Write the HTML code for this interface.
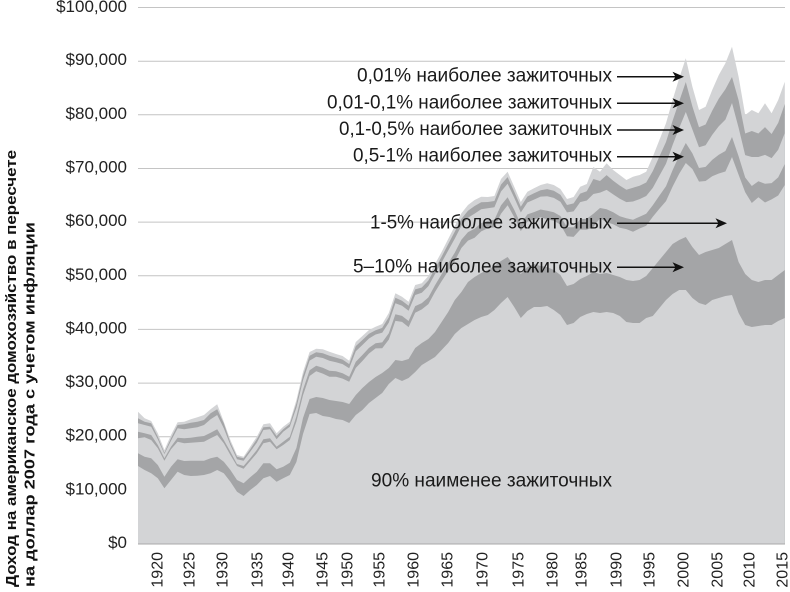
<!DOCTYPE html>
<html>
<head>
<meta charset="utf-8">
<style>
  html,body{margin:0;padding:0;background:#fff;}
  svg{display:block;}
  text{font-family:"Liberation Sans","DejaVu Sans",sans-serif;}
</style>
</head>
<body>
<svg width="790" height="592" viewBox="0 0 790 592" xmlns="http://www.w3.org/2000/svg">
  <rect x="0" y="0" width="790" height="592" fill="#ffffff"/>

  <!-- gridlines -->
  <g stroke="#c4c4c4" stroke-width="1">
    <line x1="138" y1="7.5" x2="785" y2="7.5"/>
    <line x1="138" y1="61.2" x2="785" y2="61.2"/>
    <line x1="138" y1="114.8" x2="785" y2="114.8"/>
    <line x1="138" y1="168.5" x2="785" y2="168.5"/>
    <line x1="138" y1="222.1" x2="785" y2="222.1"/>
    <line x1="138" y1="275.8" x2="785" y2="275.8"/>
    <line x1="138" y1="329.4" x2="785" y2="329.4"/>
    <line x1="138" y1="383.1" x2="785" y2="383.1"/>
    <line x1="138" y1="436.7" x2="785" y2="436.7"/>
    <line x1="138" y1="490.4" x2="785" y2="490.4"/>
  </g>

  <!-- stacked layers (painted top boundary first) -->
  <polygon fill="#d3d4d6" points="138,411.7 144.6,418.3 151.2,421 157.8,433.3 164.4,450 171,435 177.6,422.3 184.2,421.7 190.8,419.3 197.4,417.3 204,415 210.6,409.3 217.2,404.3 223.8,421.7 230.4,440 237,455 243.6,456.7 250.2,446.7 256.8,436.7 263.4,424.3 270,423.3 276.6,433.3 283.2,426.7 289.8,421.7 296.4,400 303,372 309.6,352 316.2,348.7 322.8,349.3 329.4,351.7 336,354 342.6,356 349.2,360.7 355.8,342 362.4,336 369,330 375.6,326.7 382.2,324 388.8,313 395.4,293.3 402,296.7 408.6,301.7 415.2,285 421.8,283.3 428.4,276 435,264 441.6,252 448.2,239 454.8,226 461.4,213.3 468,205 474.6,200 481.2,196.7 487.8,197 494.4,196 501,179 507.6,171.7 514.2,186.7 520.8,202 527.4,191.7 534,188.3 540.6,185 547.2,183.3 553.8,185 560.4,189 567,199 573.6,197 580.2,186.7 586.8,184 593.4,167 600,171.7 606.6,163.3 613.2,170 619.8,175 626.4,180 633,176.7 639.6,175 646.2,171.7 652.8,156.7 659.4,140 666,123.3 672.6,100 679.2,78.3 685.8,58.3 692.4,86.7 699,110 705.6,106.7 712.2,90 718.8,75 725.4,63.3 732,46.7 738.6,76.7 745.2,115 751.8,110 758.4,113.3 765,103.3 771.6,113.3 778.2,100 784.8,81.7 784.8,544 138,544"/>
  <polygon fill="#a4a5a7" points="138,418.3 144.6,421.7 151.2,423.3 157.8,436.7 164.4,452.7 171,438.3 177.6,425 184.2,424.3 190.8,422.7 197.4,421.7 204,420 210.6,413.3 217.2,409.3 223.8,423.3 230.4,442.7 237,456.7 243.6,458.3 250.2,449.3 256.8,439.3 263.4,427.3 270,426.7 276.6,436 283.2,429.3 289.8,424 296.4,403.5 303,375.7 309.6,355.8 316.2,352.3 322.8,353.2 329.4,355.7 336,357.6 342.6,359.6 349.2,364.1 355.8,346.1 362.4,340 369,333.8 375.6,330.2 382.2,327.9 388.8,317.3 395.4,297.7 402,300.7 408.6,305.8 415.2,289.4 421.8,287.5 428.4,280.5 435,268.5 441.6,256.7 448.2,244.1 454.8,231.6 461.4,218.9 468,210.7 474.6,206 481.2,202.3 487.8,202 494.4,201 501,184.6 507.6,177.1 514.2,191.6 520.8,206.7 527.4,196.5 534,193.3 540.6,190.2 547.2,189.1 553.8,190.7 560.4,194.7 567,205 573.6,203.4 580.2,193.6 586.8,191.3 593.4,179 600,181 606.6,175.1 613.2,180.8 619.8,185.6 626.4,189.8 633,187.7 639.6,185.7 646.2,182.5 652.8,171.1 659.4,156.5 666,142 672.6,120.8 679.2,101.2 685.8,82 692.4,106.5 699,127.2 705.6,124.5 712.2,110.7 718.8,98.6 725.4,89.3 732,77 738.6,100.2 745.2,133.5 751.8,131 758.4,133.5 765,127.1 771.6,134 778.2,122.9 784.8,104 784.8,544 138,544"/>
  <polygon fill="#d3d4d6" points="138,423.3 144.6,425 151.2,426.7 157.8,439.3 164.4,454 171,440.7 177.6,428.3 184.2,429.3 190.8,428.3 197.4,427.3 204,425 210.6,419.3 217.2,415 223.8,428.3 230.4,445 237,459.3 243.6,460.7 250.2,451.7 256.8,442.7 263.4,430 270,429.3 276.6,439.3 283.2,431.7 289.8,426.7 296.4,407.8 303,380.4 309.6,360.6 316.2,356.8 322.8,358 329.4,360.7 336,362.2 342.6,364.1 349.2,368.3 355.8,351.3 362.4,345 369,338.5 375.6,334.5 382.2,332.7 388.8,322.6 395.4,303.2 402,305.8 408.6,310.8 415.2,295 421.8,292.7 428.4,286.1 435,274.1 441.6,262.5 448.2,250.5 454.8,238.6 461.4,225.8 468,217.8 474.6,213.6 481.2,209.2 487.8,208.2 494.4,207.3 501,191.5 507.6,183.8 514.2,197.6 520.8,212.5 527.4,202.5 534,199.6 540.6,196.6 547.2,196.3 553.8,197.9 560.4,201.8 567,212.4 573.6,211.4 580.2,202.1 586.8,200.5 593.4,194 600,192.6 606.6,189.9 613.2,194.4 619.8,198.8 626.4,202.1 633,201.5 639.6,199.1 646.2,196 652.8,187.9 659.4,175.7 666,163.8 672.6,145 679.2,128 685.8,112 692.4,129.5 699,147.2 705.6,145.3 712.2,134.9 718.8,126.2 725.4,119.6 732,103 738.6,127.7 745.2,155.1 751.8,157 758.4,157 765,154.9 771.6,158.1 778.2,149.7 784.8,133 784.8,544 138,544"/>
  <polygon fill="#a4a5a7" points="138,431.7 144.6,433.3 151.2,435 157.8,445 164.4,458.3 171,446.7 177.6,437.7 184.2,438.3 190.8,437.7 197.4,436.7 204,436 210.6,432.7 217.2,429.3 223.8,440 230.4,451.7 237,464 243.6,466 250.2,458.3 256.8,450 263.4,439.3 270,438.3 276.6,446.7 283.2,441.7 289.8,436.7 296.4,416.4 303,389.6 309.6,370.2 316.2,365.8 322.8,367.8 329.4,370.7 336,371.3 342.6,373.2 349.2,376.7 355.8,361.7 362.4,355 369,347.9 375.6,343.2 382.2,342.4 388.8,333.2 395.4,314.3 402,315.9 408.6,321 415.2,306.1 421.8,303.1 428.4,297.4 435,285.3 441.6,274.2 448.2,263.3 454.8,252.6 461.4,239.7 468,232.1 474.6,228.7 481.2,223.1 487.8,220.7 494.4,219.8 501,205.4 507.6,197.2 514.2,209.8 520.8,224.1 527.4,214.4 534,212.1 540.6,209.5 547.2,210.7 553.8,212.3 560.4,216 567,227.3 573.6,227.3 580.2,219.3 586.8,218.7 593.4,213.7 600,208 606.6,209.3 613.2,212.3 619.8,216.2 626.4,218.3 633,219.7 639.6,216.7 646.2,213.8 652.8,205.3 659.4,195.6 666,186.3 672.6,170.1 679.2,155.7 685.8,143 692.4,153.4 699,168 705.6,166.9 712.2,159.9 718.8,154.8 725.4,151 732,137 738.6,156.2 745.2,177.5 751.8,186 758.4,181.3 765,183.7 771.6,183.1 778.2,177.4 784.8,164 784.8,544 138,544"/>
  <polygon fill="#d3d4d6" points="138,438.3 144.6,437.3 151.2,440 157.8,448.3 164.4,460.7 171,449.3 177.6,441.7 184.2,443.3 190.8,442.7 197.4,442.3 204,441.7 210.6,438.3 217.2,435 223.8,443.3 230.4,455 237,466 243.6,468.7 250.2,461 256.8,453.3 263.4,443.3 270,441.7 276.6,449.3 283.2,445 289.8,440 296.4,421.6 303,395.2 309.6,376 316.2,371.2 322.8,373.6 329.4,376.7 336,376.8 342.6,378.6 349.2,381.8 355.8,367.9 362.4,361 369,353.5 375.6,348.4 382.2,348.2 388.8,339.6 395.4,320.9 402,321.9 408.6,327.1 415.2,312.7 421.8,309.4 428.4,304.1 435,292 441.6,281.2 448.2,271 454.8,261 461.4,248 468,240.6 474.6,237.8 481.2,231.4 487.8,228.2 494.4,227.3 501,213.7 507.6,205.2 514.2,217.1 520.8,231.1 527.4,221.6 534,219.6 540.6,217.3 547.2,219.4 553.8,220.9 560.4,224.5 567,236.3 573.6,236.9 580.2,229.6 586.8,229.7 593.4,226.9 600,218.2 606.6,222.3 613.2,224.2 619.8,227.8 626.4,229.1 633,231.8 639.6,228.5 646.2,225.7 652.8,216.7 659.4,208.7 666,201.1 672.6,186.6 679.2,173.8 685.8,163 692.4,169 699,181.6 705.6,181 712.2,176.3 718.8,173.5 725.4,171.5 732,157 738.6,174.8 745.2,192.2 751.8,203 758.4,197.3 765,202.5 771.6,199.4 778.2,195.5 784.8,185 784.8,544 138,544"/>
  <polygon fill="#a4a5a7" points="138,453.3 144.6,456.7 151.2,458.3 157.8,465 164.4,476.7 171,466.7 177.6,459.3 184.2,461 190.8,460.7 197.4,460.7 204,460.7 210.6,458.3 217.2,456.7 223.8,461.7 230.4,470 237,480 243.6,483.3 250.2,477.3 256.8,471.7 263.4,463.3 270,463.3 276.6,469.3 283.2,466.7 289.8,462.7 296.4,448 303,418 309.6,399 316.2,397 322.8,398 329.4,400 336,401 342.6,402 349.2,404 355.8,395 362.4,388 369,382 375.6,377 382.2,373 388.8,368 395.4,360 402,361 408.6,359 415.2,348 421.8,343 428.4,339 435,332 441.6,322 448.2,312 454.8,300 461.4,292 468,282 474.6,277 481.2,273 487.8,270 494.4,266 501,261 507.6,257 514.2,266 520.8,274 527.4,267 534,264 540.6,266 547.2,267 553.8,270 560.4,275 567,286 573.6,284 580.2,279 586.8,276 593.4,272 600,274 606.6,273 613.2,275 619.8,277 626.4,280 633,281 639.6,280 646.2,276 652.8,268 659.4,260 666,252 672.6,244 679.2,240 685.8,237 692.4,247 699,255 705.6,252 712.2,250 718.8,248 725.4,244 732,240 738.6,262 745.2,274 751.8,280 758.4,282 765,280 771.6,280 778.2,275 784.8,270 784.8,544 138,544"/>
  <polygon fill="#d3d4d6" points="138,466 144.6,470 151.2,473.3 157.8,478.3 164.4,488.3 171,480 177.6,471.7 184.2,475 190.8,476 197.4,475.7 204,475 210.6,473.3 217.2,470 223.8,473.3 230.4,481.7 237,491.7 243.6,496 250.2,490 256.8,485 263.4,478.3 270,476 276.6,481.7 283.2,478.3 289.8,475 296.4,462 303,434 309.6,414 316.2,413 322.8,416 329.4,417 336,419 342.6,420 349.2,423 355.8,415 362.4,410 369,403 375.6,398 382.2,393 388.8,384 395.4,378 402,381 408.6,378 415.2,372 421.8,365 428.4,361 435,357 441.6,350 448.2,343 454.8,334 461.4,328 468,324 474.6,320 481.2,317 487.8,315 494.4,310 501,303 507.6,297 514.2,307 520.8,318 527.4,311 534,307 540.6,307 547.2,306 553.8,310 560.4,315 567,325 573.6,323 580.2,317 586.8,314 593.4,312 600,313 606.6,312 613.2,313 619.8,316 626.4,322 633,323 639.6,323 646.2,318 652.8,316 659.4,308 666,300 672.6,294 679.2,290 685.8,290 692.4,298 699,303 705.6,305 712.2,300 718.8,298 725.4,296 732,295 738.6,313 745.2,325 751.8,327 758.4,326 765,325 771.6,325 778.2,321 784.8,318 784.8,544 138,544"/>

  <!-- x axis line -->
  <line x1="138" y1="544" x2="785" y2="544" stroke="#a9a9a9" stroke-width="1"/>

  <!-- y tick labels -->
  <g font-size="17" fill="#222" text-anchor="end">
    <text x="127" y="548">$0</text>
    <text x="127" y="494.4">$10,000</text>
    <text x="127" y="440.7">$20,000</text>
    <text x="127" y="387.1">$30,000</text>
    <text x="127" y="333.4">$40,000</text>
    <text x="127" y="279.8">$50,000</text>
    <text x="127" y="226.1">$60,000</text>
    <text x="127" y="172.5">$70,000</text>
    <text x="127" y="118.8">$80,000</text>
    <text x="127" y="65.2">$90,000</text>
    <text x="127" y="12">$100,000</text>
  </g>

  <!-- x tick labels -->
  <g font-size="16" fill="#222" text-anchor="end">
    <text transform="translate(162.5,552) rotate(-90)">1920</text>
    <text transform="translate(194.5,552) rotate(-90)">1925</text>
    <text transform="translate(227.5,552) rotate(-90)">1930</text>
    <text transform="translate(262.5,552) rotate(-90)">1935</text>
    <text transform="translate(293.5,552) rotate(-90)">1940</text>
    <text transform="translate(327.5,552) rotate(-90)">1945</text>
    <text transform="translate(352.5,552) rotate(-90)">1950</text>
    <text transform="translate(384.5,552) rotate(-90)">1955</text>
    <text transform="translate(418.5,552) rotate(-90)">1960</text>
    <text transform="translate(452.5,552) rotate(-90)">1965</text>
    <text transform="translate(487.5,552) rotate(-90)">1970</text>
    <text transform="translate(523.5,552) rotate(-90)">1975</text>
    <text transform="translate(557.5,552) rotate(-90)">1980</text>
    <text transform="translate(586.5,552) rotate(-90)">1985</text>
    <text transform="translate(621.5,552) rotate(-90)">1990</text>
    <text transform="translate(654.5,552) rotate(-90)">1995</text>
    <text transform="translate(688.5,552) rotate(-90)">2000</text>
    <text transform="translate(722.5,552) rotate(-90)">2005</text>
    <text transform="translate(754.5,552) rotate(-90)">2010</text>
    <text transform="translate(787.5,552) rotate(-90)">2015</text>
  </g>

  <!-- y axis title -->
  <g font-size="15" font-weight="bold" fill="#111">
    <text transform="translate(16,587) rotate(-90)" textLength="437" lengthAdjust="spacingAndGlyphs">Доход на американское домохозяйство в пересчете</text>
    <text transform="translate(34.5,587) rotate(-90)" textLength="365" lengthAdjust="spacingAndGlyphs">на доллар 2007 года с учетом инфляции</text>
  </g>

  <!-- annotations -->
  <g font-size="19" fill="#1a1a1a" text-anchor="end">
    <text x="612" y="81.7" textLength="255" lengthAdjust="spacingAndGlyphs">0,01% наиболее зажиточных</text>
    <text x="612" y="108.3" textLength="285" lengthAdjust="spacingAndGlyphs">0,01-0,1% наиболее зажиточных</text>
    <text x="612" y="135" textLength="273" lengthAdjust="spacingAndGlyphs">0,1-0,5% наиболее зажиточных</text>
    <text x="612" y="161.7" textLength="259" lengthAdjust="spacingAndGlyphs">0,5-1% наиболее зажиточных</text>
    <text x="612" y="228.3" textLength="242" lengthAdjust="spacingAndGlyphs">1-5% наиболее зажиточных</text>
    <text x="612" y="272.3" textLength="259" lengthAdjust="spacingAndGlyphs">5–10% наиболее зажиточных</text>
    <text x="612" y="486.7" textLength="241" lengthAdjust="spacingAndGlyphs">90% наименее зажиточных</text>
  </g>

  <!-- arrows -->
  <g stroke="#111" stroke-width="1.5">
    <line x1="617" y1="76.7" x2="676" y2="76.7"/>
    <line x1="617" y1="103.3" x2="676" y2="103.3"/>
    <line x1="617" y1="130" x2="676" y2="130"/>
    <line x1="617" y1="156.7" x2="676" y2="156.7"/>
    <line x1="617" y1="223.3" x2="719" y2="223.3"/>
    <line x1="617" y1="267.3" x2="676" y2="267.3"/>
  </g>
  <g fill="#111">
    <polygon points="684,76.7 672.5,71.7 675.5,76.7 672.5,81.7"/>
    <polygon points="684,103.3 672.5,98.3 675.5,103.3 672.5,108.3"/>
    <polygon points="684,130 672.5,125 675.5,130 672.5,135"/>
    <polygon points="684,156.7 672.5,151.7 675.5,156.7 672.5,161.7"/>
    <polygon points="727,223.3 715.5,218.3 718.5,223.3 715.5,228.3"/>
    <polygon points="684,267.3 672.5,262.3 675.5,267.3 672.5,272.3"/>
  </g>
</svg>
</body>
</html>
